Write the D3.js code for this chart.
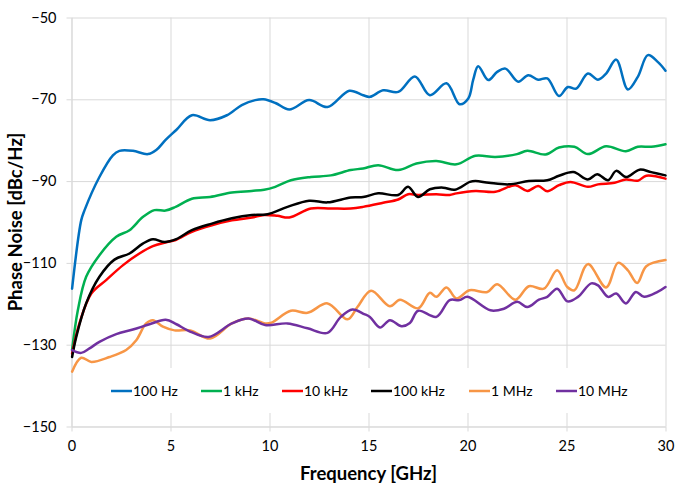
<!DOCTYPE html>
<html><head><meta charset="utf-8">
<script src="https://cdn.jsdelivr.net/npm/d3@7"></script>
<style>body{margin:0;background:#fff}text{font-family:Lato,"Open Sans",sans-serif}</style>
</head><body>
<svg id="c" width="676" height="491"></svg>
<script>
const freqTicks = [0, 5, 10, 15, 20, 25, 30];
const levelTicks = [-50, -70, -90, -110, -130, -150];
const seriesNames = ["100 Hz", "1 kHz", "10 kHz", "100 kHz", "1 MHz", "10 MHz"];
const seriesColors = ["#0070C0", "#00B050", "#FF0000", "#000000", "#F79646", "#7030A0"];

// [frequency GHz, phase noise dBc/Hz]
const pn100Hz = [[0.03,-116.3],[0.49,-99.6],[0.66,-97.1],[1.41,-89],[2.09,-83.7],[2.42,-82.6],[3.1,-82.6],[3.86,-83.4],[4.28,-82.4],[4.74,-80],[5.29,-77.5],[6.08,-73.9],[7.0,-75.1],[7.85,-73.9],[8.6,-71.4],[9.28,-70.2],[9.7,-70.0],[10.3,-70.9],[11.0,-72.5],[12.0,-70.2],[12.93,-71.9],[14.03,-67.9],[14.73,-69],[15.07,-69.4],[15.74,-67.8],[16.5,-68.2],[17.34,-64.4],[18.1,-69],[18.94,-66.1],[19.6,-71.2],[20.04,-69.8],[20.29,-65.2],[20.54,-61.9],[21.05,-65.3],[21.5,-63.3],[21.92,-62.5],[22.56,-65.7],[23.07,-64.1],[23.57,-65.2],[24.03,-64.9],[24.62,-69.2],[25.07,-67],[25.49,-67.4],[26.08,-63.7],[26.59,-65.2],[27.0,-63.7],[27.51,-60.3],[28.1,-67.6],[28.6,-64.5],[29.11,-59.2],[29.62,-60.9],[30,-63]];
const pn1kHz = [[0.03,-131.3],[0.32,-121.6],[0.74,-113.4],[1.41,-108.1],[2.26,-103.6],[2.93,-102],[3.6,-98.8],[4.19,-97.1],[4.75,-97.2],[5.26,-96.3],[6.08,-94.3],[7.0,-93.9],[8.1,-92.8],[9.1,-92.4],[9.73,-92.1],[10.29,-91.4],[11.08,-89.8],[12.09,-89],[13.1,-88.6],[14.1,-87.3],[14.73,-86.9],[15.49,-86.1],[16.5,-87.3],[17.42,-85.7],[18.43,-85.1],[19.44,-85.9],[20.4,-83.8],[21.41,-84.1],[22.5,-83.4],[23.02,-82.6],[23.94,-83.5],[24.62,-81.8],[25.4,-81.6],[26.08,-83.4],[27.0,-81.5],[28.0,-82.7],[28.6,-81.6],[29.28,-81.6],[30,-81]];
const pn10kHz = [[0.03,-132.2],[0.4,-124.8],[1.0,-117.5],[1.75,-114.2],[2.59,-110.6],[3.43,-107.7],[4.11,-105.9],[4.75,-105],[5.26,-104.4],[6.08,-102.4],[7.09,-100.8],[8.1,-99.6],[9.11,-98.9],[9.73,-98.3],[10.4,-98.5],[11.0,-98.9],[12.09,-96.7],[13.1,-96.7],[14.1,-96.7],[14.73,-96.3],[15.74,-95.3],[16.5,-94.5],[17.0,-93.2],[17.5,-93.4],[18.43,-93.2],[19.1,-93.4],[19.44,-93],[20.4,-92.4],[21.41,-92.6],[22.42,-91],[23.02,-92.4],[23.57,-91.2],[24.03,-92.5],[24.62,-91],[25.2,-90.2],[26.08,-91.4],[26.59,-90.8],[27.43,-90.4],[28.0,-89.6],[28.6,-89.9],[29.03,-88.7],[30,-89.4]];
const pn100kHz = [[0.03,-133],[0.24,-128.1],[0.74,-119.9],[1.41,-113.4],[2.17,-109.2],[2.93,-107.7],[3.6,-105.3],[4.11,-104.2],[4.7,-104.9],[5.29,-104.2],[6.08,-102],[7.09,-100.4],[8.1,-99.1],[9.11,-98.3],[9.9,-98.1],[10.91,-96.3],[12.0,-94.8],[12.93,-95.2],[14.1,-94],[14.73,-93.9],[15.49,-93],[16.5,-93.4],[17.0,-91.4],[17.5,-93.9],[18.1,-92],[18.77,-91.6],[19.36,-92.1],[20.12,-90.2],[20.4,-90],[21.08,-90.4],[22.09,-90.8],[23.1,-90],[24.03,-89.8],[24.62,-88.7],[25.35,-87.8],[26.08,-89.6],[26.55,-88.3],[27.1,-89.8],[27.51,-87.5],[28.0,-89],[28.69,-87.2],[29.28,-87.8],[30,-88.6]];
const pn1MHz = [[0.03,-136.6],[0.49,-133.2],[1.0,-134.2],[1.92,-133],[2.76,-131.3],[3.27,-128.9],[3.77,-124.8],[4.11,-124],[4.62,-125.6],[5.2,-126.5],[6.0,-126.5],[7.0,-128.5],[8.1,-124.8],[8.94,-123.6],[9.78,-124.8],[10.1,-124.6],[11.08,-121.7],[11.92,-122.2],[12.93,-119.9],[13.94,-123.8],[14.44,-120.8],[15.13,-116.8],[16.08,-120.6],[16.59,-119],[17.51,-121.1],[18.1,-117.3],[18.43,-118.3],[18.94,-116],[19.44,-118.7],[20.1,-116.7],[21.0,-117.1],[21.5,-115.2],[22.42,-119],[23.1,-115.7],[23.86,-116.3],[24.53,-111.8],[25.04,-115.9],[25.4,-116.7],[26.08,-110.3],[27.0,-116],[27.6,-110],[28.1,-111.8],[28.57,-114.9],[29.03,-110.8],[30,-109.3]];
const pn10MHz = [[0.03,-131.3],[0.49,-132],[0.91,-130.9],[1.41,-129.3],[2.26,-127.4],[3.1,-126.3],[3.94,-125],[4.76,-123.9],[5.3,-125],[5.91,-126.6],[6.92,-128.1],[8.1,-124.8],[8.94,-123.6],[9.78,-125.2],[10.91,-124.8],[11.92,-126],[12.93,-127.1],[13.6,-123.2],[14.19,-121.4],[14.78,-122.5],[15.07,-123.2],[15.58,-125.8],[16.08,-124],[16.67,-125.5],[17.09,-124.7],[17.51,-121.7],[18.43,-123.2],[19.1,-119.1],[19.6,-119.1],[20.0,-118.3],[21.16,-121.6],[21.84,-121.2],[22.51,-119.5],[23.02,-120.8],[23.61,-119],[24.03,-118.3],[24.53,-116.3],[25.05,-119.4],[25.58,-118.3],[26.25,-115],[26.59,-115.5],[27.1,-118.3],[27.51,-117.5],[28.0,-119.9],[28.5,-117.1],[28.92,-118.3],[29.6,-117.1],[30,-115.9]];

const allSeries = [pn100Hz, pn1kHz, pn10kHz, pn100kHz, pn1MHz, pn10MHz];

const L = 71.5, R = 665.5, T = 17.5, B = 426.5;
const svg = d3.select("#c");
const x = d3.scaleLinear().domain([0, 30]).range([L, R]);
const y = d3.scaleLinear().domain([-150, -50]).range([B, T]);
const grid = "#D9D9D9";

// gridlines
svg.append("g").attr("transform", `translate(${L},0)`)
  .call(d3.axisLeft(y).tickValues(levelTicks).tickSize(-(R - L)).tickFormat(""))
  .call(g => { g.select(".domain").remove(); g.selectAll("line").attr("stroke", grid); });
svg.append("g").attr("transform", `translate(0,${B})`)
  .call(d3.axisBottom(x).tickValues(freqTicks).tickSize(-(B - T)).tickFormat(""))
  .call(g => { g.select(".domain").remove(); g.selectAll("line").attr("stroke", grid); });

// legend background (covers gridlines)
const legY = 391;
svg.append("rect").attr("x", 96).attr("y", 368).attr("width", 548).attr("height", 45).attr("fill", "#fff");

// axes with labels
svg.append("g").attr("transform", `translate(${L},0)`)
  .call(d3.axisLeft(y).tickValues(levelTicks).tickSize(5).tickPadding(10).tickSizeOuter(0))
  .call(g => {
    g.select(".domain").attr("stroke", grid);
    g.selectAll("line").attr("stroke", grid);
    g.selectAll("text").attr("font-size", 14.5).attr("fill", "#000").style("font-family", "Lato");
  });
svg.append("g").attr("transform", `translate(0,${B})`)
  .call(d3.axisBottom(x).tickValues(freqTicks).tickSize(5).tickPadding(9).tickSizeOuter(0))
  .call(g => {
    g.select(".domain").attr("stroke", grid);
    g.selectAll("line").attr("stroke", grid);
    g.selectAll("text").attr("font-size", 14.5).attr("fill", "#000").style("font-family", "Lato");
  });

// lines
const line = d3.line().x(d => x(d[0])).y(d => y(d[1])).curve(d3.curveCatmullRom.alpha(0.5));
allSeries.forEach((s, i) => {
  svg.append("path").datum(s).attr("d", line)
    .attr("fill", "none").attr("stroke", seriesColors[i]).attr("stroke-width", 2.5)
    .attr("stroke-linejoin", "round").attr("stroke-linecap", "round");
});

// legend
const legX = [111, 201, 282, 371, 469, 556];
seriesNames.forEach((n, i) => {
  svg.append("line").attr("x1", legX[i]).attr("x2", legX[i] + 21).attr("y1", legY).attr("y2", legY)
    .attr("stroke", seriesColors[i]).attr("stroke-width", 2.5);
  svg.append("text").attr("x", legX[i] + 22).attr("y", legY).attr("dy", "0.35em")
    .attr("font-size", 14).attr("fill", "#000").text(n);
});

// axis titles
svg.append("text").attr("x", (L + R) / 2).attr("y", 480).attr("text-anchor", "middle")
  .attr("font-size", 18.5).attr("font-weight", "bold").attr("fill", "#000").text("Frequency [GHz]");
svg.append("text").attr("transform", `translate(22,${(T + B) / 2}) rotate(-90)`).attr("text-anchor", "middle")
  .attr("font-size", 18.5).attr("font-weight", "bold").attr("fill", "#000").text("Phase Noise [dBc/Hz]");
</script>
</body></html>
